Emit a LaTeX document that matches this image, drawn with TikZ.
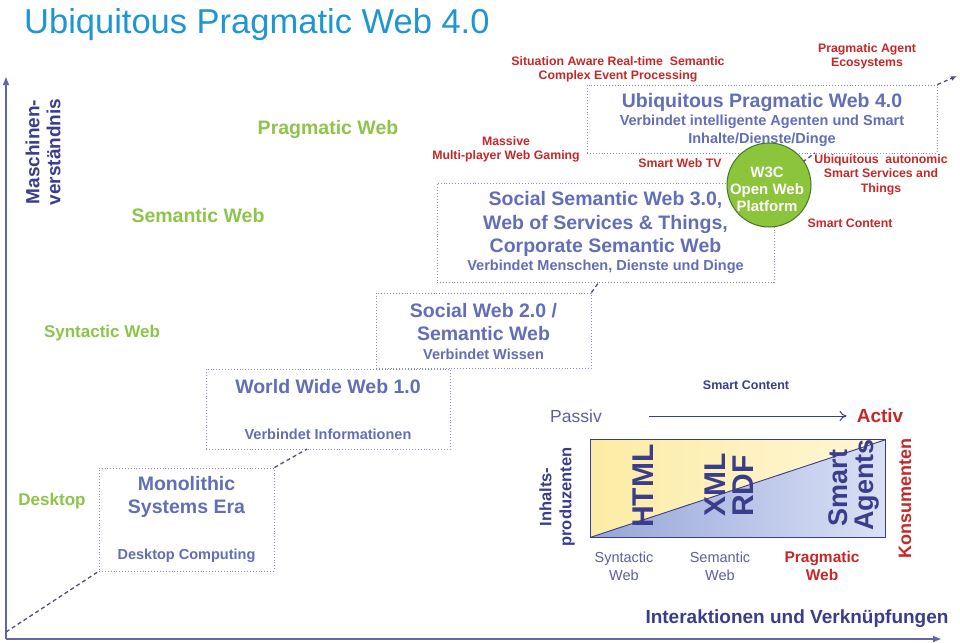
\documentclass[tikz,border=0pt]{standalone}
\usepackage{fontspec}
\setmainfont{Liberation Sans}
\usetikzlibrary{arrows.meta}

\definecolor{titleblue}{RGB}{30,150,210}
\definecolor{boxtext}{RGB}{98,110,182}
\definecolor{boxline}{RGB}{140,140,185}
\definecolor{conncol}{RGB}{80,80,120}
\definecolor{greenlab}{RGB}{141,196,74}
\definecolor{redlab}{RGB}{198,40,40}
\definecolor{darkblue}{RGB}{58,60,140}
\definecolor{axiscol}{RGB}{100,100,170}
\definecolor{w3cfill}{RGB}{140,196,60}
\definecolor{w3cline}{RGB}{70,120,40}
\definecolor{yellowA}{RGB}{252,236,165}
\definecolor{yellowB}{RGB}{255,247,215}
\definecolor{blueA}{RGB}{150,165,215}
\definecolor{blueB}{RGB}{218,225,246}
\definecolor{greytext}{RGB}{95,95,160}

\newcommand\fs[2]{\fontsize{#1}{#2}\selectfont}

\begin{document}
\begin{tikzpicture}[x=1pt,y=-1pt,
  ebox/.style={draw=boxline, dotted, line width=0.9pt, inner sep=0pt},
  btitle/.style={text=boxtext, font=\bfseries\fs{19.5}{23.5}, align=center, inner sep=0pt},
  bsub/.style={text=boxtext, font=\bfseries\fs{14.5}{18}, align=center, inner sep=0pt},
  glab/.style={text=greenlab, font=\bfseries\fs{19.5}{22}, inner sep=0pt},
  gsmall/.style={text=greenlab, font=\bfseries\fs{17}{20}, inner sep=0pt},
  rlab/.style={text=redlab, font=\bfseries\fs{12.3}{14.5}, align=center, inner sep=0pt},
  conn/.style={draw=conncol, dash pattern=on 4pt off 3pt, line width=1.3pt},
  axisline/.style={draw=axiscol, line width=1.8pt},
  bigrot/.style={rotate=90, text=darkblue, font=\bfseries\fs{30}{30}, inner sep=0pt},
  smallreg/.style={text=greytext, font=\fs{14.5}{18}, align=center, inner sep=0pt}
]
\useasboundingbox (0,0) rectangle (960,642);
\fill[white] (0,0) rectangle (960,642);

% title
\node[anchor=west, inner sep=0pt, text=titleblue, font=\fs{34.5}{40}] (title) at (24,25) {Ubiquitous Pragmatic Web 4.0};

% axes
\coordinate (origin) at (6,639);
\coordinate (ytop) at (6,76);
\coordinate (xend) at (942,639);
\draw[axisline, -{Latex[length=9pt,width=7pt]}] (origin) -- (ytop);
\draw[axisline, -{Latex[length=9pt,width=7pt]}] (origin) -- (xend);

\node[rotate=90, text=darkblue, font=\bfseries\fs{19}{21}, align=center, inner sep=0pt] (yaxlab) at (43,152) {Maschinen-\\verständnis};
\node[text=darkblue, font=\bfseries\fs{19}{22}, inner sep=0pt] (xaxlab) at (797,619) {Interaktionen und Verknüpfungen};

% green level labels
\node[glab] (gprag) at (328,129) {Pragmatic Web};
\node[glab] (gsem) at (198,216) {Semantic Web};
\node[gsmall] (gsyn) at (102,333) {Syntactic Web};
\node[gsmall] (gdesk) at (52,501) {Desktop};

% boxes
\node[ebox, minimum width=175, minimum height=103] (b1) at (186.5,519.5) {};
\node[ebox, minimum width=244, minimum height=80] (b2) at (328,409) {};
\node[ebox, minimum width=215, minimum height=75] (b3) at (483.5,330.5) {};
\node[ebox, minimum width=337, minimum height=99] (b4) at (605.5,232.5) {};
\node[ebox, minimum width=350, minimum height=68] (b5) at (762,119) {};

% box texts
\node[btitle] (t1) at (186.5,497) {Monolithic\\Systems Era};
\node[bsub] (s1) at (186.5,556) {Desktop Computing};
\node[btitle] (t2) at (328,387) {World Wide Web 1.0};
\node[bsub] (s2) at (328,434) {Verbindet Informationen};
\node[btitle] (t3) at (483.5,322) {Social Web 2.0 /\\Semantic Web};
\node[bsub] (s3) at (483.5,354) {Verbindet Wissen};
\node[btitle] (t4) at (605.5,224) {Social Semantic Web 3.0,\\Web of Services \& Things,\\Corporate Semantic Web};
\node[bsub] (s4) at (605.5,267) {Verbindet Menschen, Dienste und Dinge};
\node[btitle] (t5) at (762,103) {Ubiquitous Pragmatic Web 4.0};
\node[bsub] (s5) at (762,131) {Verbindet intelligente Agenten und Smart\\Inhalte/Dienste/Dinge};

% connectors
\coordinate (c01) at (6,632);
\coordinate (c12) at (307,449);
\coordinate (c34) at (599,282);
\coordinate (c45) at (815,153);
\coordinate (c5t) at (957,76);
\draw[conn] (c01) -- (b1.south west);
\draw[conn] (b1.north east) -- (c12);
\draw[conn] (b3.north east) -- (c34);
\draw[conn] (b4.north east) -- (c45);
\draw[conn, -{Latex[length=6pt,width=5pt]}] (b5.north east) -- (c5t);

% W3C circle
\node[circle, fill=w3cfill, draw=w3cline, line width=1pt, minimum size=84, inner sep=0pt] (w3c) at (769,185) {};
\node[text=white, font=\bfseries\fs{15}{17}, align=center, inner sep=0pt] (w3ct) at (767,189) {W3C\\Open Web\\Platform};

% red labels
\node[rlab] (r1) at (618,69.5) {Situation Aware Real-time\ \ Semantic\\Complex Event Processing};
\node[rlab] (r2) at (867,56.5) {Pragmatic Agent\\Ecosystems};
\node[rlab] (r3) at (506,149.5) {Massive\\Multi-player Web Gaming};
\node[rlab] (r4) at (680,163) {Smart Web TV};
\node[rlab] (r5) at (881,174.5) {Ubiquitous\ \ autonomic\\Smart Services and\\Things};
\node[rlab] (r6) at (850,223) {Smart Content};

% lower right diagram
\node[text=darkblue, font=\bfseries\fs{12.5}{15}, inner sep=0pt] (sc2) at (746,385) {Smart Content};
\node[text=greytext, font=\fs{17.5}{20}, inner sep=0pt] (passiv) at (576,416) {Passiv};
\node[text=redlab, font=\bfseries\fs{19}{22}, inner sep=0pt] (activ) at (880,416) {Activ};
\draw[draw=darkblue, line width=1pt, -{To[length=7pt,width=10pt]}, shorten <=47pt, shorten >=10pt] (passiv.east) -- (activ.west);

\node[minimum width=294, minimum height=97, inner sep=0pt] (rect) at (738,488.5) {};
\shade[left color=yellowA, right color=yellowB] (rect.south west) -- (rect.north west) -- (rect.north east) -- cycle;
\shade[left color=blueA, right color=blueB] (rect.south west) -- (rect.north east) -- (rect.south east) -- cycle;
\draw[darkblue, line width=0.9pt] (rect.south west) -- (rect.north east);
\draw[darkblue, line width=1.2pt] (rect.south west) rectangle (rect.north east);

\node[bigrot] (html) at (643,486) {HTML};
\node[bigrot] (xml) at (715,485) {XML};
\node[bigrot] (rdf) at (743,486) {RDF};
\node[bigrot, font=\bfseries\fs{27}{27}] (smart) at (838,488) {Smart};
\node[bigrot, font=\bfseries\fs{27}{27}] (agents) at (867,485) {Agents};

\node[rotate=90, text=darkblue, font=\bfseries\fs{16.5}{20}, align=center, inner sep=0pt] (inh) at (557,497) {Inhalts-\\produzenten};
\node[rotate=90, text=redlab, font=\bfseries\fs{18}{20}, inner sep=0pt] (kons) at (905,498) {Konsumenten};

\node[smallreg] (lsyn) at (624,566) {Syntactic\\Web};
\node[smallreg] (lsem) at (720,566) {Semantic\\Web};
\node[smallreg, text=redlab, font=\bfseries\fs{15.5}{18}] (lprag) at (822,566) {Pragmatic\\Web};
\end{tikzpicture}
\end{document}
